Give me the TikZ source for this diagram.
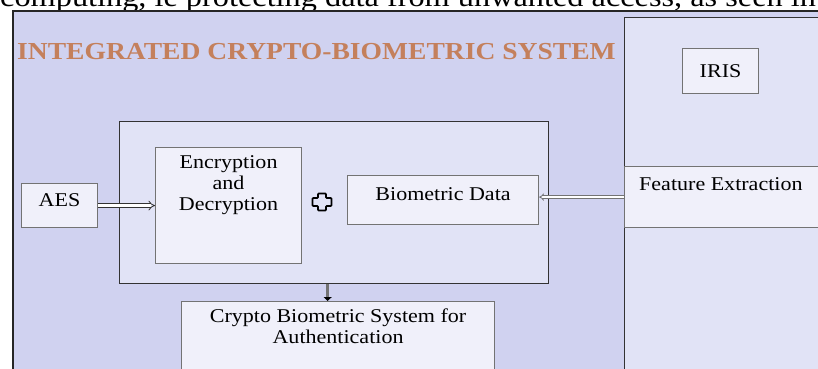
\documentclass[tikz,border=0pt]{standalone}
\usepackage{fontspec}
\setmainfont{Liberation Serif}[FakeStretch=1.13]
\usetikzlibrary{arrows.meta, positioning}
\definecolor{outerfill}{RGB}{208,210,240}
\definecolor{panelfill}{RGB}{225,227,246}
\definecolor{boxfill}{RGB}{240,240,250}
\definecolor{titlecol}{RGB}{196,128,92}
\tikzset{
  panel/.style={draw=black!80, line width=1.3pt, fill=panelfill, anchor=north west, inner sep=0pt},
  box/.style={draw=black!55, line width=1.1pt, fill=boxfill, anchor=north west, inner sep=0pt},
  lbl/.style={inner sep=0pt, align=center},
  dblarrow/.style={double, line width=0.8pt, -{Implies}},
}

\begin{document}
\begin{tikzpicture}[x=1pt, y=-1pt, every node/.style={font=\fontsize{19.5}{21}\selectfont}]
  \useasboundingbox (0,0) rectangle (818,368);
  \clip (0,0) rectangle (818,368);
  % running text above the figure
  \node[anchor=base west, inner sep=0pt, font=\fontsize{28.6}{30}\selectfont] (runtext) at (0,6.5)
    {computing, ie protecting data from unwanted access, as seen in};
  % outer system frame
  \node[draw=black!85, line width=1.6pt, fill=outerfill, anchor=north west, inner sep=0pt,
        minimum width=840, minimum height=400] (sys) at (12,10) {};
  \node[anchor=west, inner sep=0pt, text=titlecol, font=\fontsize{24.4}{26}\selectfont\bfseries]
    (title) at (17,52) {INTEGRATED CRYPTO-BIOMETRIC SYSTEM};
  % right panel
  \node[panel, minimum width=220, minimum height=400] (iriscol) at (624,17) {};
  \node[box, minimum width=76, minimum height=45] (iris) at (682,48) {};
  \node[lbl] (irislbl) at (iris) {IRIS};
  \node[box, minimum width=220, minimum height=61] (feat) at (624,166) {};
  \node[lbl, anchor=north west] (featlbl) at ([xshift=15pt, yshift=-11pt]feat.north west) {Feature Extraction};
  % core block
  \node[panel, minimum width=429, minimum height=162] (core) at (119,121) {};
  \node[box, minimum width=146, minimum height=116] (enc) at (155,147) {};
  \node[lbl, anchor=north] (enclbl) at ([yshift=-8pt]enc.north) {Encryption\\and\\Decryption};
  \node[box, minimum width=191, minimum height=49] (bio) at (347,175) {};
  \node[lbl] (biolbl) at ([yshift=6pt]bio.center) {Biometric Data};
  \node[box, minimum width=76, minimum height=44] (aes) at (21,183) {};
  \node[lbl] (aeslbl) at ([yshift=5pt]aes.center) {AES};
  \node[box, minimum width=313, minimum height=100] (auth) at (181,301) {};
  \node[lbl, anchor=north] (authlbl) at ([yshift=-8pt]auth.north)
    {Crypto Biometric System for\\Authentication};
  % combine sign
  \coordinate (plus) at (322,202);
  \draw[line width=1.8pt, rounded corners=0.8pt] (plus) ++(-4,-8.5) -- ++(8,0) -- ++(0,4.5) -- ++(5.5,0)
    -- ++(0,8) -- ++(-5.5,0) -- ++(0,4.5) -- ++(-8,0) -- ++(0,-4.5) -- ++(-5.5,0) -- ++(0,-8)
    -- ++(5.5,0) -- cycle;
  % connectors
  \draw[dblarrow, double distance=2.6pt, black!80] (aes.east) -- (enc.west);
  \draw[dblarrow, double distance=1.6pt, black!55] (feat.west) -- (bio.east |- feat.west);
  \draw[line width=3pt, black!55, -{Triangle[length=4pt, width=8pt, black]}]
    ([xshift=-6.5pt]core.south) -- ([xshift=-6.5pt]core.south |- auth.north);
\end{tikzpicture}
\end{document}
